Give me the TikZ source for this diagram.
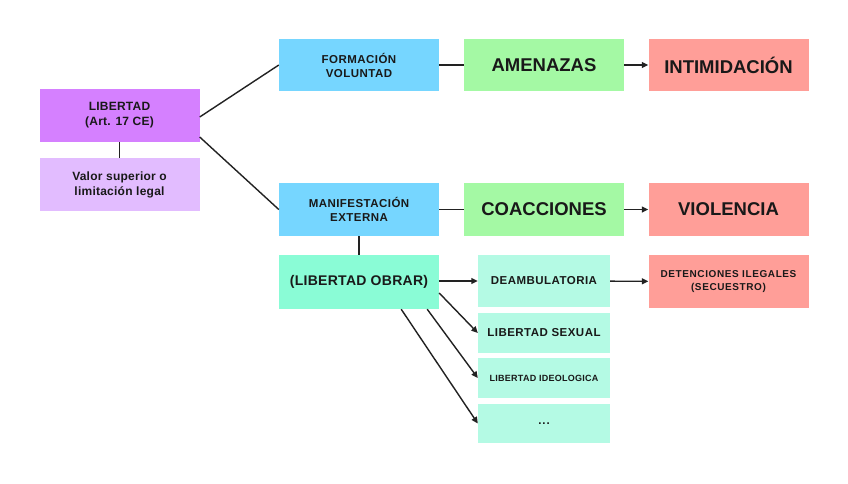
\documentclass[tikz,border=0pt]{standalone}
\usepackage{fontspec}
\setmainfont{Liberation Sans}
\usetikzlibrary{arrows.meta,calc}
\definecolor{cLib}{RGB}{213,128,255}
\definecolor{cVal}{RGB}{226,188,255}
\definecolor{cBlue}{RGB}{118,214,255}
\definecolor{cGreen}{RGB}{164,249,164}
\definecolor{cRed}{RGB}{255,158,152}
\definecolor{cMint}{RGB}{138,252,214}
\definecolor{cMintL}{RGB}{180,250,228}
\definecolor{cLine}{RGB}{34,34,34}
\newcommand{\fsz}[3]{\bfseries\fontsize{#1}{#2}\selectfont\addfontfeature{LetterSpace=#3}}
\tikzset{
  box/.style={inner sep=0pt, align=center, font=\bfseries, text=black!90,
    minimum width=160pt, minimum height=52pt},
  narrow/.style={box, minimum width=132pt},
  conn/.style={draw=cLine, line width=1.4pt},
  arr/.style={conn, -{Triangle[length=6.5pt,width=6pt]}},
  small/.style={font=\fsz{11.5}{14}{4}},
  big/.style={font=\bfseries\fontsize{18.5}{22}\selectfont},
}
\begin{document}
\begin{tikzpicture}[x=1pt,y=-1pt]
\useasboundingbox[fill=white] (0,0) rectangle (848,483);
% nodes
\node[box, fill=cLib, minimum height=53pt, font=\fsz{12}{15}{2}] (lib) at (119.5,115.5) {LIBERTAD\\(Art. 17 CE)};
\node[box, fill=cVal, minimum height=53pt, font=\fsz{12}{15}{2}] (val) at (119.5,184.5) {Valor superior o\\limitación legal};
\node[box, fill=cBlue, small] (form) at (359,65) {FORMACIÓN\\VOLUNTAD};
\node[box, fill=cGreen, big] (amen) at (544,65) {AMENAZAS};
\node[box, fill=cRed, big] (intim) at (728.5,65) {INTIMIDACIÓN};
\node[box, fill=cBlue, small, minimum height=53pt] (manif) at (359,209.5) {MANIFESTACIÓN\\EXTERNA};
\node[box, fill=cGreen, big, minimum height=53pt] (coac) at (544,209.5) {COACCIONES};
\node[box, fill=cRed, big, minimum height=53pt] (viol) at (728.5,209.5) {VIOLENCIA};
\node[box, fill=cMint, minimum height=54pt, font=\fsz{14}{17}{2}] (obrar) at (359,282) {(LIBERTAD OBRAR)};
\node[narrow, fill=cMintL, font=\fsz{11.5}{14}{4}] (deamb) at (544,281) {DEAMBULATORIA};
\node[box, fill=cRed, minimum height=53pt, font=\fsz{10}{13}{6}] (deten) at (728.5,281.5) {DETENCIONES ILEGALES\\(SECUESTRO)};
\node[narrow, fill=cMintL, minimum height=40pt, font=\fsz{11.5}{14}{4}] (sex) at (544,333) {LIBERTAD SEXUAL};
\node[narrow, fill=cMintL, minimum height=40pt, font=\fsz{9}{11}{3}] (ideo) at (544,378) {LIBERTAD IDEOLOGICA};
\node[narrow, fill=cMintL, minimum height=39pt, font=\fsz{11.5}{14}{8}] (dots) at (544,423.5) {...};
% connectors
\draw[conn] (lib) -- (val);
\draw[conn] ([yshift=-1.5pt]lib.east) -- (form.west);
\draw[conn] ([yshift=-21.5pt]lib.east) -- (manif.west);
\draw[conn] (form) -- (amen);
\draw[conn] (manif) -- (coac);
\draw[conn] (manif) -- (obrar);
\draw[arr] (amen) -- (intim);
\draw[arr] (coac) -- (viol);
\draw[arr] (obrar.east |- deamb.west) -- (deamb.west);
\draw[arr] (deamb) -- (deten);
\draw[arr] ([yshift=-11pt]obrar.east) -- (sex.west);
\draw[arr] ([xshift=-12pt]obrar.south east) -- (ideo.west);
\draw[arr] ([xshift=-38pt]obrar.south east) -- (dots.west);
\end{tikzpicture}
\end{document}
